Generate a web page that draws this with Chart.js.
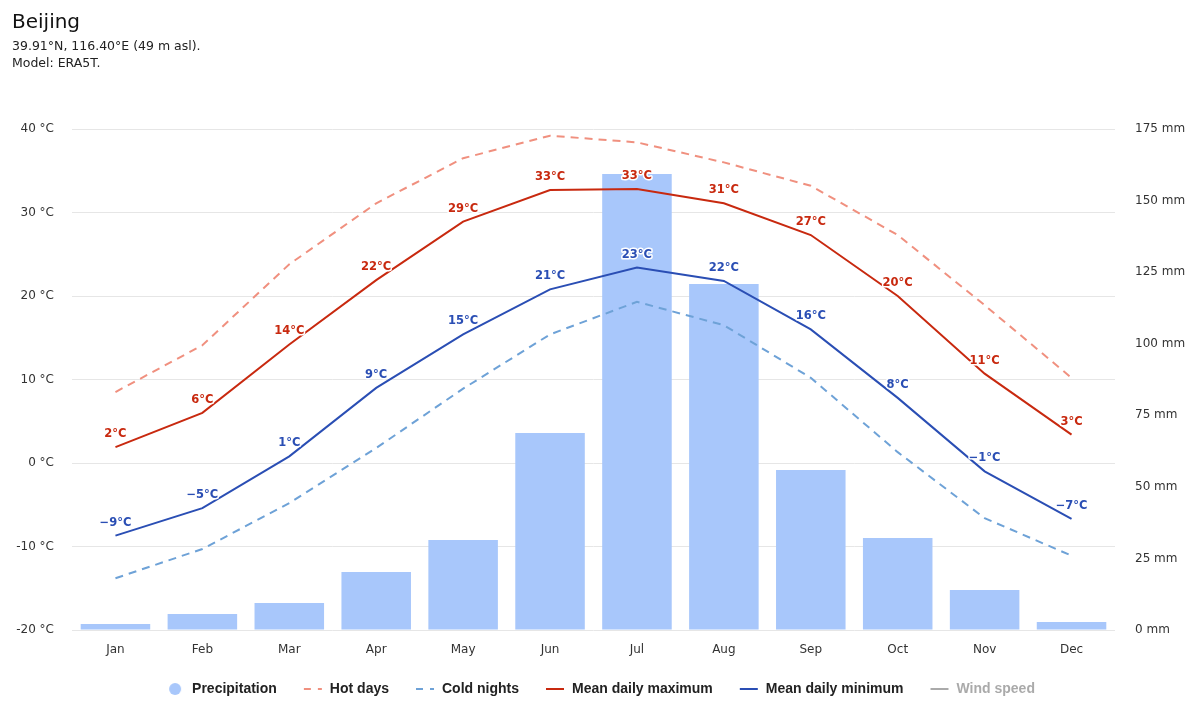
<!DOCTYPE html>
<html>
<head>
<meta charset="utf-8">
<script src="https://cdn.jsdelivr.net/npm/chart.js@4"></script>
<style>
  html, body { margin: 0; padding: 0; background: #fff; }
  #wrap { position: relative; width: 1200px; height: 720px; }
  #title { position: absolute; left: 12px; top: 9px; font: 20px "DejaVu Sans", sans-serif; color: #111; }
  #sub { position: absolute; left: 12px; top: 37px; font: 12.5px/17px "DejaVu Sans", sans-serif; color: #222; }
</style>
</head>
<body>
<div id="wrap">
  <canvas id="climateChart" width="1200" height="720"></canvas>
  <div id="title">Beijing</div>
  <div id="sub">39.91°N, 116.40°E (49 m asl).<br>Model: ERA5T.</div>
</div>
<script>
const months = ['Jan', 'Feb', 'Mar', 'Apr', 'May', 'Jun', 'Jul', 'Aug', 'Sep', 'Oct', 'Nov', 'Dec'];
const precipitation = [2.1, 5.6, 9.4, 20.3, 31.4, 68.8, 159.3, 120.9, 55.9, 32.1, 14.0, 2.8];
const hotDays = [8.5, 14.1, 23.8, 31.1, 36.5, 39.2, 38.4, 36.0, 33.2, 27.3, 18.9, 10.2];
const coldNights = [-13.8, -10.3, -4.8, 1.8, 8.9, 15.4, 19.3, 16.5, 10.2, 1.3, -6.6, -11.1];
const meanMax = [1.9, 6.0, 14.2, 21.9, 28.9, 32.7, 32.8, 31.1, 27.3, 20.0, 10.7, 3.4];
const meanMin = [-8.7, -5.4, 0.8, 9.0, 15.4, 20.8, 23.4, 21.8, 16.0, 7.8, -1.0, -6.7];
const windSpeed = [];
const tempTicks = [-20, -10, 0, 10, 20, 30, 40];
const precipTicks = [0, 25, 50, 75, 100, 125, 150, 175];

function symbol(kind, color, dash) {
    const c = document.createElement('canvas');
    c.width = 20;
    c.height = 14;
    const g = c.getContext('2d');
    if (kind === 'circle') {
        g.fillStyle = color;
        g.beginPath();
        g.arc(10, 7, 6, 0, Math.PI * 2);
        g.fill();
    } else {
        g.strokeStyle = color;
        g.lineWidth = 2;
        g.setLineDash(dash);
        g.beginPath();
        g.moveTo(1, 7);
        g.lineTo(19, 7);
        g.stroke();
    }
    return c;
}

const fmt = v => (v < 0 ? '\u2212' : '') + Math.abs(Math.round(v)) + '°C';

// draws the °C labels above each point of the mean lines
const pointLabels = {
    id: 'pointLabels',
    afterDatasetsDraw(chart) {
        const ctx = chart.ctx;
        ctx.save();
        ctx.font = 'bold 11.5px "DejaVu Sans", sans-serif';
        ctx.textAlign = 'center';
        ctx.textBaseline = 'middle';
        ctx.lineJoin = 'round';
        chart.data.datasets.forEach((ds, i) => {
            if (!ds.showLabels) return;
            chart.getDatasetMeta(i).data.forEach((pt, j) => {
                const text = fmt(ds.data[j]);
                ctx.lineWidth = 3;
                ctx.strokeStyle = '#fff';
                ctx.strokeText(text, pt.x, pt.y - 13);
                ctx.fillStyle = ds.borderColor;
                ctx.fillText(text, pt.x, pt.y - 13);
            });
        });
        ctx.restore();
    }
};

const ctx = document.getElementById('climateChart').getContext('2d');
new Chart(ctx, {
    data: {
        labels: months,
        datasets: [
            {
                type: 'bar', label: 'Precipitation', data: precipitation, yAxisID: 'y1',
                backgroundColor: '#a8c7fb', barPercentage: 0.8, categoryPercentage: 1, order: 10,
                legendSymbol: symbol('circle', '#a8c7fb'), legendFont: '#222'
            },
            {
                type: 'line', label: 'Hot days', data: hotDays, yAxisID: 'y',
                borderColor: '#f0907f', borderWidth: 2, borderDash: [8, 6], pointRadius: 0, order: 2,
                legendSymbol: symbol('line', '#f0907f', [7, 7]), legendFont: '#222'
            },
            {
                type: 'line', label: 'Cold nights', data: coldNights, yAxisID: 'y',
                borderColor: '#6ea2d7', borderWidth: 2, borderDash: [8, 6], pointRadius: 0, order: 2,
                legendSymbol: symbol('line', '#6ea2d7', [7, 7]), legendFont: '#222'
            },
            {
                type: 'line', label: 'Mean daily maximum', data: meanMax, yAxisID: 'y',
                borderColor: '#c8290f', borderWidth: 2, pointRadius: 0, order: 1, showLabels: true,
                legendSymbol: symbol('line', '#c8290f', []), legendFont: '#222'
            },
            {
                type: 'line', label: 'Mean daily minimum', data: meanMin, yAxisID: 'y',
                borderColor: '#2a4eb4', borderWidth: 2, pointRadius: 0, order: 1, showLabels: true,
                legendSymbol: symbol('line', '#2a4eb4', []), legendFont: '#222'
            },
            {
                type: 'line', label: 'Wind speed', data: windSpeed, yAxisID: 'y', hidden: true,
                borderColor: '#aaaaaa', borderWidth: 2, pointRadius: 0,
                legendSymbol: symbol('line', '#aaaaaa', []), legendFont: '#aaaaaa'
            }
        ]
    },
    options: {
        responsive: false,
        animation: false,
        layout: { padding: { top: 129, left: 0, right: 0, bottom: 14 } },
        plugins: {
            tooltip: { enabled: false },
            legend: {
                position: 'bottom',
                labels: {
                    usePointStyle: true,
                    pointStyleWidth: 20,
                    padding: 26,
                    font: { family: '"Liberation Sans", Arial, sans-serif', size: 14, weight: 'bold' },
                    generateLabels(chart) {
                        return chart.data.datasets.map((ds, i) => ({
                            text: ds.label,
                            pointStyle: ds.legendSymbol,
                            fillStyle: 'transparent',
                            strokeStyle: 'transparent',
                            lineWidth: 0,
                            fontColor: ds.legendFont,
                            hidden: false,
                            datasetIndex: i
                        }));
                    }
                }
            }
        },
        scales: {
            x: {
                grid: { display: false },
                border: { display: false },
                ticks: { color: '#333', padding: 5, font: { family: '"DejaVu Sans", sans-serif', size: 12 } },
                afterFit(scale) { scale.height = 26; }
            },
            y: {
                position: 'left',
                min: -20, max: 40,
                afterBuildTicks(scale) { scale.ticks = tempTicks.map(v => ({ value: v })); },
                grid: { color: '#e6e6e6', drawTicks: false },
                border: { display: false },
                ticks: {
                    color: '#333', padding: 18,
                    font: { family: '"DejaVu Sans", sans-serif', size: 12 },
                    callback: v => v + ' °C'
                },
                afterFit(scale) { scale.width = 72; }
            },
            y1: {
                position: 'right',
                min: 0, max: 175,
                afterBuildTicks(scale) { scale.ticks = precipTicks.map(v => ({ value: v })); },
                grid: { drawOnChartArea: false, drawTicks: false },
                border: { display: false },
                ticks: {
                    color: '#333', padding: 20,
                    font: { family: '"DejaVu Sans", sans-serif', size: 12 },
                    callback: v => v + ' mm'
                },
                afterFit(scale) { scale.width = 85; }
            }
        }
    },
    plugins: [pointLabels]
});
</script>
</body>
</html>
